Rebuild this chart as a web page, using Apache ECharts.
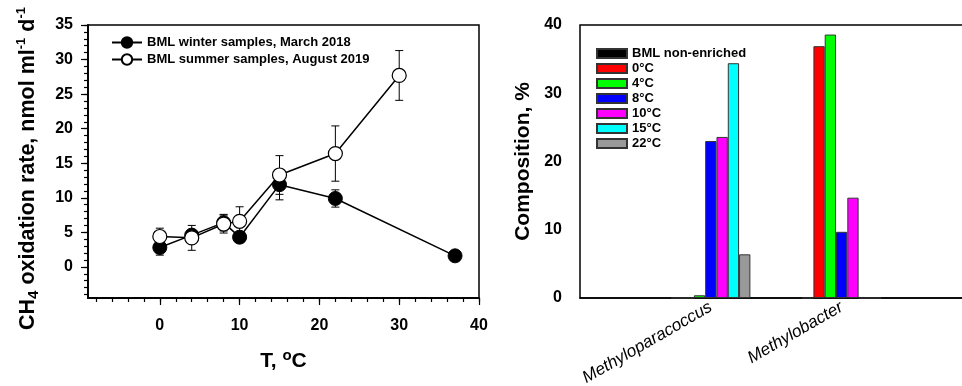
<!DOCTYPE html>
<html>
<head>
<meta charset="utf-8">
<script src="https://cdn.jsdelivr.net/npm/echarts@6/dist/echarts.min.js"></script>
<style>
  html, body { margin: 0; padding: 0; background: #fff; }
  #chart { width: 962px; height: 386px; }
</style>
</head>
<body>
<div id="chart"></div>
<script>
  // left panel: CH4 oxidation rate vs temperature
  const winterT = [0, 4, 8, 10, 15, 22, 37]
  const winterRate = [2.8, 4.6, 6.4, 4.3, 11.9, 9.9, 1.6]
  const winterErr = [1.1, 0.5, 1.2, 0.3, 2.2, 1.25, 0.3]
  const summerT = [0, 4, 8, 10, 15, 22, 30]
  const summerRate = [4.4, 4.2, 6.2, 6.6, 13.3, 16.4, 27.7]
  const summerErr = [1.2, 1.8, 1.3, 2.1, 2.8, 4.0, 3.6]

  const xMajorTicks = [0, 10, 20, 30, 40]
  const xMinorTicks = [-8, -6, -4, -2, 0, 2, 4, 6, 8, 10, 12, 14, 16, 18, 20, 22, 24, 26, 28, 30, 32, 34, 36, 38, 40]
  const yMajorTicks = [0, 5, 10, 15, 20, 25, 30, 35]
  const yMinorTicks = [-4, -3, -2, -1, 0, 1, 2, 3, 4, 5, 6, 7, 8, 9, 10, 11, 12, 13, 14, 15, 16, 17, 18, 19, 20,
    21, 22, 23, 24, 25, 26, 27, 28, 29, 30, 31, 32, 33, 34, 35]

  // right panel: composition bars
  const genera = ['', 'Methyloparacoccus', 'Methylobacter', '']
  const barNames = ['BML non-enriched', '0°C', '4°C', '8°C', '10°C', '15°C', '22°C']
  const nonEnriched = [null, 0, 0, null]
  const comp0 = [null, 0, 36.9, null]
  const comp4 = [null, 0.4, 38.6, null]
  const comp8 = [null, 23.0, 9.7, null]
  const comp10 = [null, 23.6, 14.7, null]
  const comp15 = [null, 34.4, 0, null]
  const comp22 = [null, 6.4, 0, null]
  const barColors = ['#000000', '#ff0000', '#00ff00', '#0000ff', '#ff00ff', '#00ffff', '#999999']

  const FONT = '"Liberation Sans", Arial, sans-serif'

  function renderErr(params, api) {
    const x = api.value(0)
    const y = api.value(1)
    const e = api.value(2)
    const hi = api.coord([x, y + e])
    const lo = api.coord([x, y - e])
    const w = 4
    const style = { stroke: '#000', lineWidth: 1 }
    return {
      type: 'group',
      children: [
        { type: 'line', shape: { x1: hi[0], y1: hi[1], x2: lo[0], y2: lo[1] }, style },
        { type: 'line', shape: { x1: hi[0] - w, y1: hi[1], x2: hi[0] + w, y2: hi[1] }, style },
        { type: 'line', shape: { x1: lo[0] - w, y1: lo[1], x2: lo[0] + w, y2: lo[1] }, style }
      ]
    }
  }

  const zip = (a, b) => a.map((v, i) => [v, b[i]])
  const zip3 = (a, b, c) => a.map((v, i) => [v, b[i], c[i]])

  const axisLineStyle = { onZero: false, lineStyle: { color: '#000', width: 1.5 } }
  const labelStyle = { fontFamily: FONT, fontWeight: 'bold', fontSize: 16, color: '#000' }

  const barSeries = barNames.map((name, i) => ({
    name,
    type: 'bar',
    xAxisIndex: 2,
    yAxisIndex: 2,
    data: [nonEnriched, comp0, comp4, comp8, comp10, comp15, comp22][i],
    barWidth: 11.3,
    barGap: '0%',
    itemStyle: { color: barColors[i], borderColor: '#333', borderWidth: 1 }
  }))

  const myChart = echarts.init(document.getElementById('chart'))
  myChart.setOption({
    animation: false,
    textStyle: { fontFamily: FONT },
    grid: [
      { left: 88, top: 25, width: 391, height: 273, show: true, borderColor: '#000', borderWidth: 1.5, outerBoundsMode: 'none' },
      { left: 580, top: 25, width: 392.5, height: 273, show: true, borderColor: '#000', borderWidth: 1.5, outerBoundsMode: 'none' }
    ],
    legend: [
      {
        data: ['BML winter samples, March 2018', 'BML summer samples, August 2019'],
        left: 111,
        top: 36,
        padding: 0,
        orient: 'vertical',
        itemWidth: 30,
        itemHeight: 13,
        itemGap: 4,
        textStyle: { fontFamily: FONT, fontWeight: 'bold', fontSize: 13, color: '#000' }
      },
      {
        data: barNames,
        left: 596,
        top: 47,
        padding: 0,
        orient: 'vertical',
        icon: 'rect',
        itemWidth: 30,
        itemHeight: 9,
        itemGap: 2,
        textStyle: { fontFamily: FONT, fontWeight: 'bold', fontSize: 13, color: '#000', lineHeight: 13 }
      }
    ],
    xAxis: [
      {
        type: 'value', gridIndex: 0, min: -9, max: 40, position: 'bottom',
        axisLine: axisLineStyle,
        axisTick: { customValues: xMinorTicks, length: 4, lineStyle: { color: '#000', width: 1.2 } },
        axisLabel: { show: false },
        splitLine: { show: false }
      },
      {
        type: 'value', gridIndex: 0, min: -9, max: 40, position: 'bottom',
        axisLine: axisLineStyle,
        axisTick: { customValues: xMajorTicks, length: 7, lineStyle: { color: '#000', width: 1.2 } },
        axisLabel: Object.assign({ customValues: xMajorTicks, margin: 20 }, labelStyle),
        splitLine: { show: false },
        name: 'T, {sup|o}C',
        nameLocation: 'middle',
        nameGap: 50,
        nameTextStyle: {
          fontFamily: FONT, fontWeight: 'bold', fontSize: 21, color: '#000', lineHeight: 26,
          rich: { sup: { fontFamily: FONT, fontWeight: 'bold', fontSize: 15, verticalAlign: 'top', lineHeight: 15 } }
        }
      },
      {
        type: 'category', gridIndex: 1, data: genera, boundaryGap: false,
        axisLine: axisLineStyle,
        axisTick: { show: false },
        axisLabel: { rotate: 30, margin: 8, fontFamily: FONT, fontStyle: 'italic', fontSize: 17, color: '#000', interval: 0 },
        splitLine: { show: false }
      }
    ],
    yAxis: [
      {
        type: 'value', gridIndex: 0, min: -4.5, max: 35, position: 'left',
        axisLine: axisLineStyle,
        axisTick: { customValues: yMinorTicks, length: 4, lineStyle: { color: '#000', width: 1.2 } },
        axisLabel: { show: false },
        splitLine: { show: false }
      },
      {
        type: 'value', gridIndex: 0, min: -4.5, max: 35, position: 'left',
        axisLine: axisLineStyle,
        axisTick: { customValues: yMajorTicks, length: 7, lineStyle: { color: '#000', width: 1.2 } },
        axisLabel: Object.assign({ customValues: yMajorTicks, margin: 15 }, labelStyle),
        splitLine: { show: false },
        name: 'CH{sub|4} oxidation rate, nmol ml{sup|-1} d{sup|-1}',
        nameLocation: 'middle',
        nameGap: 47,
        nameTextStyle: {
          fontFamily: FONT, fontWeight: 'bold', fontSize: 21.5, color: '#000', lineHeight: 26,
          padding: [0, 14, 0, 0],
          rich: {
            sub: { fontFamily: FONT, fontWeight: 'bold', fontSize: 15, verticalAlign: 'bottom', lineHeight: 15 },
            sup: { fontFamily: FONT, fontWeight: 'bold', fontSize: 13, verticalAlign: 'top', lineHeight: 13 }
          }
        }
      },
      {
        type: 'value', gridIndex: 1, min: 0, max: 40, interval: 10,
        axisLine: axisLineStyle,
        axisTick: { length: 7, lineStyle: { color: '#000', width: 1.2 } },
        axisLabel: Object.assign({ margin: 18 }, labelStyle),
        splitLine: { show: false },
        name: 'Composition, %',
        nameLocation: 'middle',
        nameGap: 46,
        nameTextStyle: { fontFamily: FONT, fontWeight: 'bold', fontSize: 21, color: '#000' }
      }
    ],
    series: [
      {
        type: 'custom', xAxisIndex: 0, yAxisIndex: 0, z: 1,
        renderItem: renderErr, encode: { x: 0, y: 1 },
        data: zip3(winterT, winterRate, winterErr)
      },
      {
        type: 'custom', xAxisIndex: 0, yAxisIndex: 0, z: 1,
        renderItem: renderErr, encode: { x: 0, y: 1 },
        data: zip3(summerT, summerRate, summerErr)
      },
      {
        name: 'BML winter samples, March 2018',
        type: 'line', xAxisIndex: 0, yAxisIndex: 0, z: 3,
        data: zip(winterT, winterRate),
        symbol: 'circle', symbolSize: 14,
        lineStyle: { color: '#000', width: 1.5 },
        itemStyle: { color: '#000', borderColor: '#000', borderWidth: 1 }
      },
      {
        name: 'BML summer samples, August 2019',
        type: 'line', xAxisIndex: 0, yAxisIndex: 0, z: 4,
        data: zip(summerT, summerRate),
        symbol: 'circle', symbolSize: 14,
        lineStyle: { color: '#000', width: 1.5 },
        itemStyle: { color: '#fff', borderColor: '#000', borderWidth: 1.2 }
      }
    ].concat(barSeries)
  })
</script>
</body>
</html>
